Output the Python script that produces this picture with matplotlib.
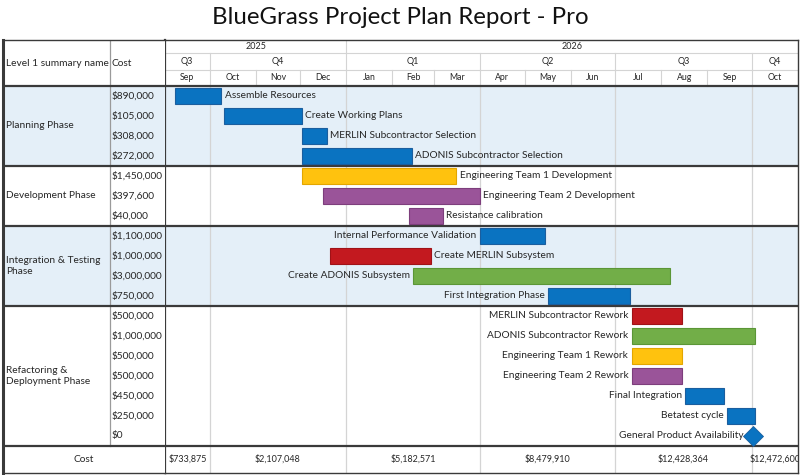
#!/usr/bin/env python3
"""Gantt-style project plan report (BlueGrass), table + timeline."""
from datetime import date

import matplotlib
matplotlib.use("Agg")
import matplotlib.pyplot as plt
import matplotlib.dates as mdates

plt.rcParams["font.family"] = ["Lato", "DejaVu Sans"]

# ---- data -----------------------------------------------------------------
groups = ["Planning Phase", "Development Phase", "Integration & Testing\nPhase",
          "Refactoring &\nDeployment Phase"]
group_sizes = [4, 3, 4, 7]

tasks = ["Assemble Resources", "Create Working Plans", "MERLIN Subcontractor Selection",
         "ADONIS Subcontractor Selection", "Engineering Team 1 Development",
         "Engineering Team 2 Development", "Resistance calibration",
         "Internal Performance Validation", "Create MERLIN Subsystem",
         "Create ADONIS Subsystem", "First Integration Phase",
         "MERLIN Subcontractor Rework", "ADONIS Subcontractor Rework",
         "Engineering Team 1 Rework", "Engineering Team 2 Rework",
         "Final Integration", "Betatest cycle", "General Product Availability"]
costs = ["$890,000", "$105,000", "$308,000", "$272,000", "$1,450,000", "$397,600",
         "$40,000", "$1,100,000", "$1,000,000", "$3,000,000", "$750,000", "$500,000",
         "$1,000,000", "$500,000", "$500,000", "$450,000", "$250,000", "$0"]
starts = ["2025-09-08", "2025-10-11", "2025-12-02", "2025-12-02", "2025-12-02",
          "2025-12-16", "2026-02-12", "2026-04-01", "2025-12-21", "2026-02-15",
          "2026-05-17", "2026-07-12", "2026-07-12", "2026-07-12", "2026-07-12",
          "2026-08-17", "2026-09-14", "2026-10-02"]
ends = ["2025-10-09", "2025-12-02", "2025-12-19", "2026-02-14", "2026-03-16",
        "2026-04-01", "2026-03-07", "2026-05-15", "2026-02-27", "2026-08-07",
        "2026-07-11", "2026-08-15", "2026-10-03", "2026-08-15", "2026-08-15",
        "2026-09-12", "2026-10-03", "2026-10-02"]
colors = ["blue", "blue", "blue", "blue", "yellow", "purple", "purple", "blue", "red",
          "green", "blue", "red", "green", "yellow", "purple", "blue", "blue", "blue"]
label_right = [True] * 7 + [False, True] + [False] * 9
milestone = [False] * 17 + [True]

quarter_labels = ["Q3", "Q4", "Q1", "Q2", "Q3", "Q4"]
quarter_costs = ["$733,875", "$2,107,048", "$5,182,571", "$8,479,910",
                 "$12,428,364", "$12,472,600"]

PALETTE = {"blue": ("#0A73C1", "#1B5E9E"), "yellow": ("#FFC20E", "#E3A600"),
           "purple": ("#9A5499", "#7D3E7C"), "red": ("#C3191F", "#A01217"),
           "green": ("#72AE48", "#5B9636")}
BAND = "#E4EFF8"
DARK = "#3A3A3A"
GRID = "#D4D4D4"
TXT = "#262626"

t0, t1 = date(2025, 9, 1), date(2026, 11, 1)
month_starts = []
d = t0
while d < t1:
    month_starts.append(d)
    d = date(d.year + d.month // 12, d.month % 12 + 1, 1)
q_starts = [m for m in month_starts if m.month in (1, 4, 7, 10)]
q_edges = [t0] + q_starts + [t1]
y_edges = [t0, date(2026, 1, 1), t1]

n = len(tasks)
H_YEAR, H_Q, H_M = 0.65, 0.85, 0.8
Y_TOP = -(H_YEAR + H_Q + H_M)
Y_BOT = n + 1.35

fig = plt.figure(figsize=(8, 4.75), dpi=100)
fig.text(0.5, 1 - 18 / 475, "BlueGrass Project Plan Report - Pro", ha="center",
         va="center", fontsize=17.3, color="#111111")

ax = fig.add_axes([165 / 800, 2 / 475, 633 / 800, 433 / 475])
axl = fig.add_axes([3 / 800, 2 / 475, 162 / 800, 433 / 475])
for a in (ax, axl):
    a.set_ylim(Y_BOT, Y_TOP)
    a.set_xticks([])
    a.set_yticks([])
    for s in a.spines.values():
        s.set_color(DARK)
        s.set_linewidth(1.0)

x0, x1 = mdates.date2num(t0), mdates.date2num(t1)
ax.set_xlim(x0, x1)
axl.set_xlim(0, 162)
axl.spines["left"].set_linewidth(2.2)
ax.spines["left"].set_linewidth(1.6)
axl.spines["right"].set_visible(False)

# bands
row = 0
for gi, size in enumerate(group_sizes):
    if gi % 2 == 0:
        for a in (ax, axl):
            a.axhspan(row, row + size, color=BAND, lw=0, zorder=0)
    row += size

# ---- header -----------------------------------------------------------------
yr_mid = Y_TOP + H_YEAR / 2
q_mid = Y_TOP + H_YEAR + H_Q / 2
m_mid = -H_M / 2
ax.axhline(Y_TOP + H_YEAR, color=GRID, lw=0.8)
ax.axhline(-H_M, color=GRID, lw=0.8)
for a, b in zip(y_edges[:-1], y_edges[1:]):
    xa, xb = mdates.date2num(a), mdates.date2num(b)
    ax.text((xa + xb) / 2, yr_mid, str(a.year), ha="center", va="center",
            fontsize=6.5, color=TXT)
for a in y_edges[1:-1]:
    ax.plot([mdates.date2num(a)] * 2, [Y_TOP, Y_TOP + H_YEAR], color=GRID, lw=0.8)
for lab, a, b in zip(quarter_labels, q_edges[:-1], q_edges[1:]):
    xa, xb = mdates.date2num(a), mdates.date2num(b)
    ax.text((xa + xb) / 2, q_mid, lab, ha="center", va="center", fontsize=6.5,
            color=TXT)
for a in q_starts:
    ax.plot([mdates.date2num(a)] * 2, [Y_TOP + H_YEAR, -H_M], color=GRID, lw=0.8)
    ax.plot([mdates.date2num(a)] * 2, [0, Y_BOT], color=GRID, lw=0.9, zorder=1)
for i, m in enumerate(month_starts):
    nxt = month_starts[i + 1] if i + 1 < len(month_starts) else t1
    xa, xb = mdates.date2num(m), mdates.date2num(nxt)
    ax.text((xa + xb) / 2, m_mid, m.strftime("%b"), ha="center", va="center",
            fontsize=6.3, color=TXT)
    if i > 0:
        ax.plot([xa, xa], [-H_M, 0], color=GRID, lw=0.8)

axl.text(3, Y_TOP / 2, "Level 1 summary name", ha="left", va="center",
         fontsize=7.3, color=TXT)
axl.text(109, Y_TOP / 2, "Cost", ha="left", va="center", fontsize=7.3, color=TXT)
axl.plot([107, 107], [Y_TOP, n], color="#9A9A9A", lw=0.9)

# ---- separators -------------------------------------------------------------
seps = [0]
row = 0
for size in group_sizes:
    row += size
    seps.append(row)
for a in (ax, axl):
    for s in seps:
        a.axhline(s, color=DARK, lw=1.6, zorder=3)

# ---- left table -------------------------------------------------------------
row = 0
for g, size in zip(groups, group_sizes):
    axl.text(3, row + size / 2, g, ha="left", va="center", fontsize=7.3,
             color=TXT, linespacing=1.25)
    row += size
for i, c in enumerate(costs):
    axl.text(109, i + 0.5, c, ha="left", va="center", fontsize=7.3, color=TXT)

# ---- bars -------------------------------------------------------------------
for i in range(n):
    s = mdates.date2num(date.fromisoformat(starts[i]))
    e = mdates.date2num(date.fromisoformat(ends[i]))
    fc, ec = PALETTE[colors[i]]
    if milestone[i]:
        ax.plot([s], [i + 0.5], marker="D", ms=10, color=fc, mec=ec, mew=0.6,
                zorder=4)
        lx, ha = s - 6.5, "right"
    else:
        ax.barh(i + 0.5, e - s, left=s, height=0.84, color=fc, edgecolor=ec,
                lw=0.8, zorder=4)
        lx, ha = (e + 2.2, "left") if label_right[i] else (s - 2.2, "right")
    ax.text(lx, i + 0.5, tasks[i], ha=ha, va="center", fontsize=7.3,
            color=TXT, zorder=5)

# ---- cost row ---------------------------------------------------------------
axl.text(81, n + (Y_BOT - n) / 2, "Cost", ha="center", va="center",
         fontsize=7.3, color=TXT)
for lab, a, b in zip(quarter_costs, q_edges[:-1], q_edges[1:]):
    xa, xb = mdates.date2num(a), mdates.date2num(b)
    ax.text((xa + xb) / 2, n + (Y_BOT - n) / 2, lab, ha="center", va="center",
            fontsize=6.5, color=TXT, clip_on=True)

fig.savefig("out.png", dpi=100, facecolor="white")
